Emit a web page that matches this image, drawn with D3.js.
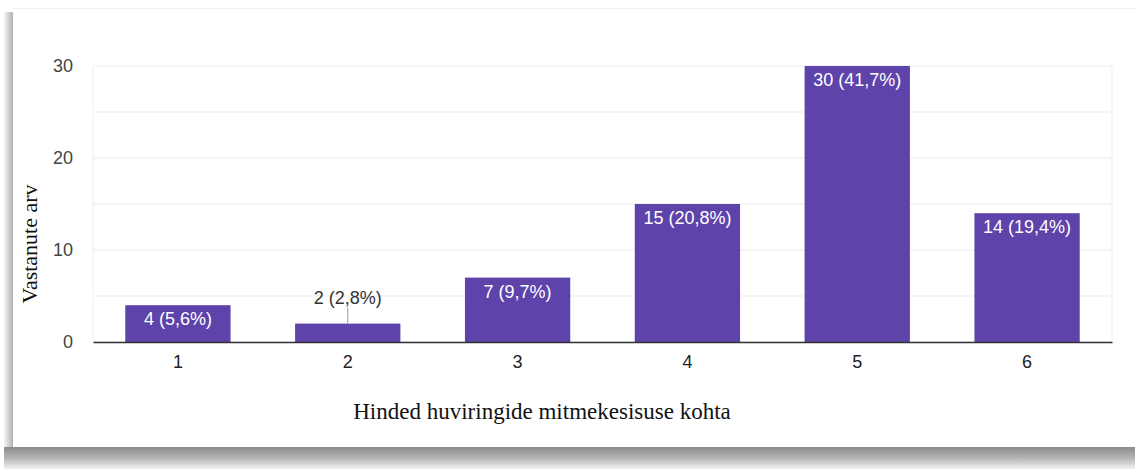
<!DOCTYPE html>
<html>
<head>
<meta charset="utf-8">
<script src="https://cdn.jsdelivr.net/npm/d3@7"></script>
<style>
  body { margin: 0; background: #fff; }
  svg { display: block; }
</style>
</head>
<body>
<svg id="chart" width="1135" height="469"></svg>
<script>
// survey answers per grade
const grades = ['1', '2', '3', '4', '5', '6'];
const counts = [4, 2, 7, 15, 30, 14];
const shares = ['5,6%', '2,8%', '9,7%', '20,8%', '41,7%', '19,4%'];
const yTicks = [0, 10, 20, 30];

const svg = d3.select('#chart');
const margin = { left: 93, right: 1112, top: 66, bottom: 342 };
const sans = 'Liberation Sans, Arial, sans-serif';
const serif = 'Liberation Serif, Times New Roman, serif';

const defs = svg.append('defs');
const shade = defs.append('linearGradient').attr('id', 'shade')
  .attr('x1', 0).attr('x2', 0).attr('y1', 0).attr('y2', 1);
shade.append('stop').attr('offset', 0).attr('stop-color', '#8c8c8c');
shade.append('stop').attr('offset', 0.5).attr('stop-color', '#b5b5b5');
shade.append('stop').attr('offset', 1).attr('stop-color', '#f2f2f2');
const side = defs.append('linearGradient').attr('id', 'side')
  .attr('x1', 0).attr('x2', 1).attr('y1', 0).attr('y2', 0);
side.append('stop').attr('offset', 0).attr('stop-color', '#f4f4f4');
side.append('stop').attr('offset', 1).attr('stop-color', '#b0b0b0');

// card and its shadow
svg.append('rect')
  .attr('x', 4).attr('y', 12).attr('width', 9).attr('height', 450)
  .attr('fill', 'url(#side)');
svg.append('rect')
  .attr('x', 4).attr('y', 447).attr('width', 1131).attr('height', 22)
  .attr('fill', 'url(#shade)');
svg.append('rect')
  .attr('x', 13).attr('y', 9).attr('width', 1122).attr('height', 438)
  .attr('fill', '#fff');
svg.append('line')
  .attr('x1', 13).attr('x2', 1135).attr('y1', 8.5).attr('y2', 8.5)
  .attr('stroke', '#f0f0f0');

const x = d3.scaleBand()
  .domain(grades)
  .range([margin.left, margin.right])
  .paddingInner(0.38)
  .paddingOuter(0.19);

const y = d3.scaleLinear()
  .domain([0, 30])
  .range([margin.bottom, margin.top]);

// grid
svg.append('g')
  .selectAll('line')
  .data(d3.range(0, 31, 5))
  .join('line')
    .attr('x1', margin.left).attr('x2', margin.right)
    .attr('y1', d => y(d)).attr('y2', d => y(d))
    .attr('stroke', '#ebebeb');
svg.append('line')
  .attr('x1', margin.right).attr('x2', margin.right)
  .attr('y1', margin.top).attr('y2', margin.bottom)
  .attr('stroke', '#eeeeee');
svg.append('line')
  .attr('x1', margin.left).attr('x2', margin.left)
  .attr('y1', margin.top).attr('y2', margin.bottom)
  .attr('stroke', '#eeeeee');

// y axis
const yAxis = svg.append('g')
  .attr('transform', `translate(${margin.left},0)`)
  .call(d3.axisLeft(y).tickValues(yTicks).tickSize(0).tickPadding(20));
yAxis.select('.domain').remove();
yAxis.selectAll('text')
  .attr('font-family', sans)
  .attr('font-size', 18)
  .attr('fill', '#444');

// bars
const data = grades.map((g, i) => ({ g, v: counts[i], p: shares[i] }));
svg.append('g')
  .selectAll('rect')
  .data(data)
  .join('rect')
    .attr('x', d => x(d.g))
    .attr('y', d => y(d.v))
    .attr('width', x.bandwidth())
    .attr('height', d => y(0) - y(d.v))
    .attr('fill', '#5e43ab');

// value labels
const inside = d => y(0) - y(d.v) >= 30;
svg.append('g')
  .selectAll('text')
  .data(data)
  .join('text')
    .attr('x', d => x(d.g) + x.bandwidth() / 2)
    .attr('y', d => inside(d) ? y(d.v) + 20 : y(d.v) - 20)
    .attr('text-anchor', 'middle')
    .attr('font-family', sans)
    .attr('font-size', 18)
    .attr('fill', d => inside(d) ? '#fff' : '#333')
    .text(d => `${d.v} (${d.p})`);
svg.append('g')
  .selectAll('line')
  .data(data.filter(d => !inside(d)))
  .join('line')
    .attr('x1', d => x(d.g) + x.bandwidth() / 2)
    .attr('x2', d => x(d.g) + x.bandwidth() / 2)
    .attr('y1', d => y(d.v))
    .attr('y2', d => y(d.v) - 16)
    .attr('stroke', '#999');

// x axis
const xAxis = svg.append('g')
  .attr('transform', `translate(0,${margin.bottom})`)
  .call(d3.axisBottom(x).tickSize(0).tickPadding(13));
xAxis.select('.domain')
  .attr('stroke', '#333')
  .attr('stroke-width', 1.5);
xAxis.selectAll('text')
  .attr('font-family', sans)
  .attr('font-size', 18)
  .attr('fill', '#222');

// titles
svg.append('text')
  .attr('x', 542).attr('y', 419)
  .attr('text-anchor', 'middle')
  .attr('font-family', serif)
  .attr('font-size', 23)
  .attr('fill', '#111')
  .text('Hinded huviringide mitmekesisuse kohta');
svg.append('text')
  .attr('transform', 'translate(37,244) rotate(-90)')
  .attr('text-anchor', 'middle')
  .attr('font-family', serif)
  .attr('font-size', 22)
  .attr('fill', '#111')
  .text('Vastanute arv');
</script>
</body>
</html>
